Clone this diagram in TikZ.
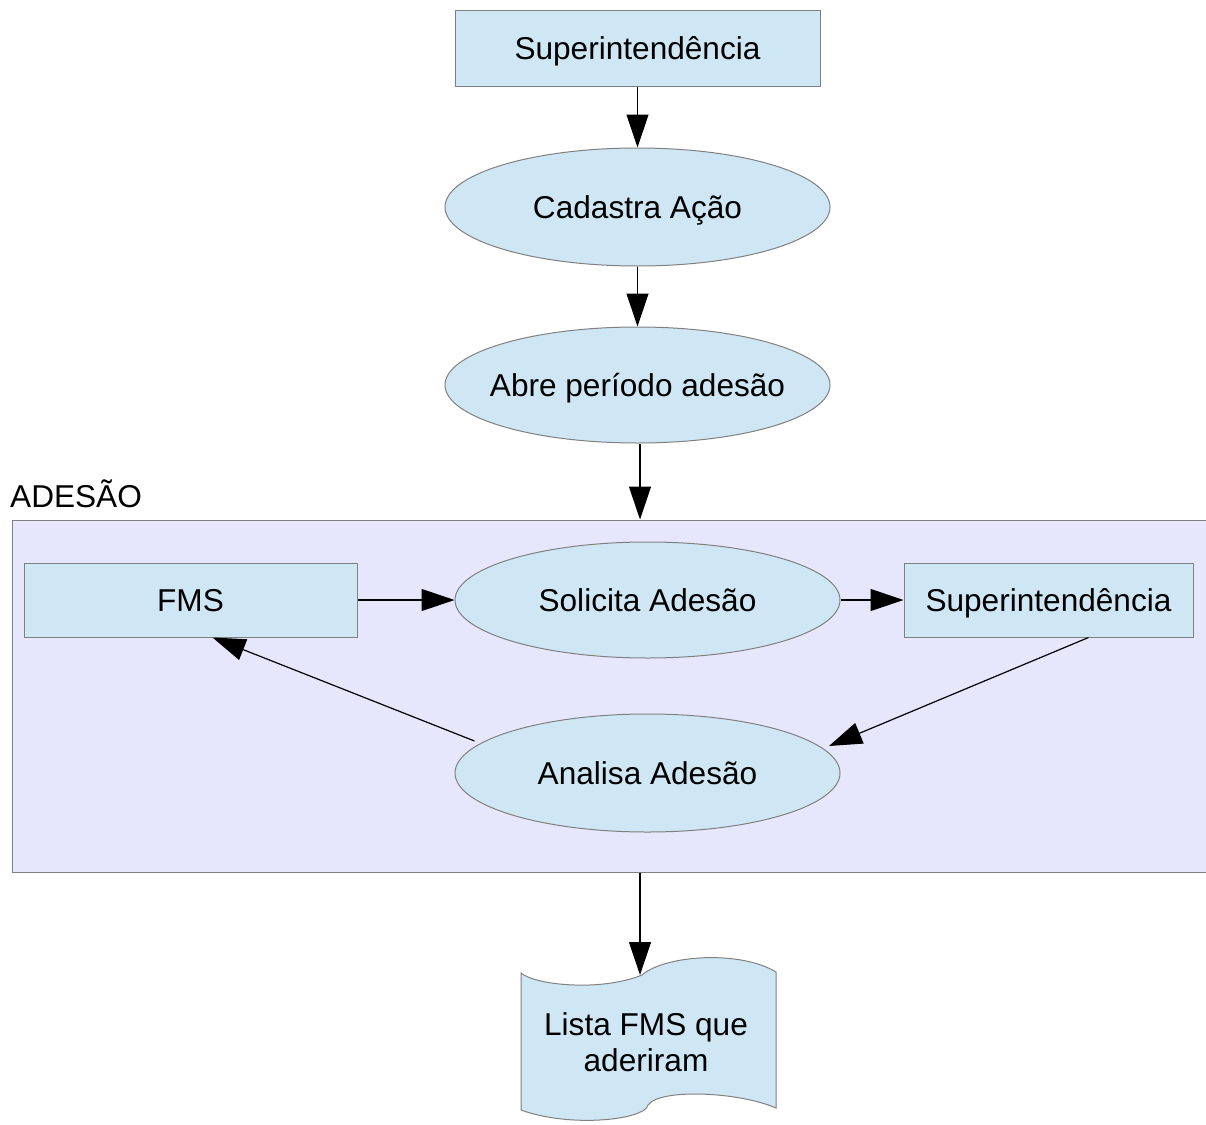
\documentclass[tikz,border=0pt]{standalone}
\usepackage{fontspec}
\setmainfont{Liberation Sans}
\usetikzlibrary{arrows.meta,shapes.geometric,calc}
\definecolor{nodefill}{RGB}{207,231,245}
\definecolor{boxfill}{RGB}{230,230,252}
\definecolor{edgegray}{RGB}{128,128,128}
\begin{document}
\begin{tikzpicture}[x=1pt,y=-1pt, font=\fontsize{31.6}{36}\selectfont,
 oneline/.style={text height=22.6pt, text depth=0pt},
 rectnode/.style={draw=edgegray, fill=nodefill, line width=1pt, inner sep=0pt, oneline},
 ellnode/.style={ellipse, draw=edgegray, fill=nodefill, line width=1pt, inner sep=0pt, oneline, minimum width=385, minimum height=118},
 docshape/.style={draw=edgegray, fill=nodefill, line width=1pt},
 container/.style={draw=edgegray, fill=boxfill, line width=1pt, inner sep=0pt},
 conn/.style={line width=1.2pt, -{Triangle[length=33pt,width=22pt]}}]
\useasboundingbox (0,0) rectangle (1206,1124);
\node[rectnode, minimum width=365, minimum height=75] (sup1) at (637.5,48.5) {Superintendência};
\node[ellnode] (cad) at (637.5,207) {\makebox[0pt][c]{Cadastra Ação}};
\node[ellnode, minimum height=116] (abre) at (637.5,385) {\makebox[0pt][c]{Abre período adesão}};
\node[container, minimum width=1196, minimum height=352] (ad) at (610,696) {};
\node[anchor=base west, inner sep=0pt] (adlabel) at (10,507) {ADESÃO};
\node[rectnode, minimum width=333, minimum height=74] (fms) at (190.5,600) {FMS};
\node[ellnode, minimum height=116] (sol) at (647.5,600) {\makebox[0pt][c]{Solicita Adesão}};
\node[rectnode, minimum width=289, minimum height=74] (sup2) at (1048.5,600) {Superintendência};
\node[ellnode] (ana) at (647.5,773) {\makebox[0pt][c]{Analisa Adesão}};
\draw[docshape] (521,973) .. controls (535,985) and (600,992) .. (642,975)
  .. controls (665,955) and (740,950) .. (776,972) -- (776,1108)
  .. controls (740,1092) and (660,1088) .. (648,1105)
  .. controls (645,1120) and (570,1128) .. (521,1110) -- cycle;
\node[align=center, inner sep=0pt] (lista) at (646,1042) {\spaceskip=0pt Lista FMS que\\aderiram};
\coordinate (listatop) at (640,975);
\draw[conn] (sup1) -- (cad);
\draw[conn] (cad) -- (abre);
\draw[conn] ($(abre.south)+(2.5,0)$) -- ($(abre.south |- ad.north)+(2.5,0)$);
\draw[conn] (fms) -- (sol);
\draw[conn] (sol) -- (sup2);
\draw[conn] ($(sup2.south west)+(185,0)$) -- ($(ana.center)+(181.5,-27)$);
\draw[conn] ($(ana.center)+(-173,-32)$) -- ($(fms.south west)+(189,0)$);
\draw[conn] (ad.south -| listatop) -- (listatop);
\end{tikzpicture}
\end{document}
